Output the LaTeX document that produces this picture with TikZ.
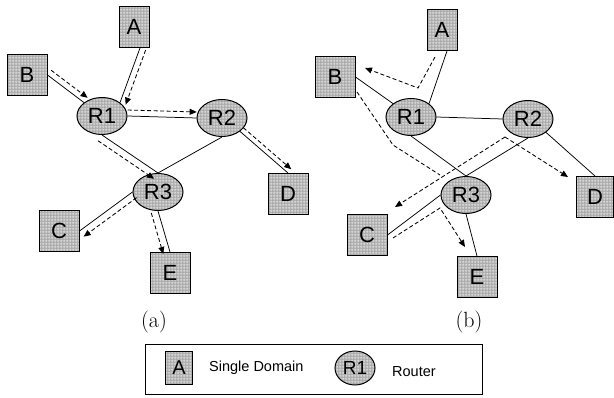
\documentclass[tikz,border=0pt]{standalone}
\usepackage{fontspec}
\setsansfont{Liberation Sans}
\usetikzlibrary{calc,patterns,arrows.meta,shapes.geometric}

% white mesh laid over a grey fill, the stippled look of the nodes
\pgfdeclarepatternformonly{mesh}{\pgfqpoint{0pt}{0pt}}{\pgfqpoint{3pt}{3pt}}{\pgfqpoint{3pt}{3pt}}{%
  \pgfsetlinewidth{0.7pt}%
  \pgfpathmoveto{\pgfqpoint{0pt}{1.5pt}}\pgfpathlineto{\pgfqpoint{3pt}{1.5pt}}%
  \pgfpathmoveto{\pgfqpoint{1.5pt}{0pt}}\pgfpathlineto{\pgfqpoint{1.5pt}{3pt}}%
  \pgfusepath{stroke}}

\tikzset{
  textured/.style={draw=black, line width=1pt, preaction={fill=gray!66},
    pattern=mesh, pattern color=white!85!gray},
  dombox/.style={textured, rectangle, minimum width=40pt, minimum height=41pt,
    inner sep=0pt, font=\sffamily\fontsize{22}{22}\selectfont},
  slimbox/.style={minimum width=30pt},
  rtrnode/.style={textured, ellipse, minimum width=50pt, minimum height=37pt,
    inner sep=0pt, font=\sffamily\fontsize{22}{22}\selectfont},
  linkline/.style={line width=0.75pt},
  flowplain/.style={line width=0.85pt, dash pattern=on 4pt off 2.5pt},
  flowline/.style={flowplain, -{Triangle[length=7pt,width=6pt]}},
  captext/.style={font=\fontsize{22}{22}\selectfont},
  keytext/.style={anchor=west, inner sep=0pt, font=\sffamily\fontsize{14.5}{14.5}\selectfont},
}

% dashed flow running beside a link, #1 = sideways offset
\newcommand\flowpar[3]{%
  \path (#2) -- (#3) coordinate[pos=0] (fs) coordinate[pos=1] (ft);
  \draw[flowline] ($(fs)!#1!90:(ft)$) -- ($(ft)!#1!-90:(fs)$);
}

\begin{document}
\begin{tikzpicture}[x=1pt, y=-1pt]
\useasboundingbox (0,0) rectangle (614,398);

% ---------- (a) ----------
\node[dombox,slimbox] (A) at (134,27) {A};
\node[dombox] (B) at (27,75) {B};
\node[rtrnode] (R1) at (102,116) {R1};
\node[rtrnode] (R2) at (222,118) {R2};
\node[rtrnode] (R3) at (158,192) {R3};
\node[dombox] (D) at (288,194) {D};
\node[dombox] (C) at (59,231) {C};
\node[dombox] (E) at (170,273) {E};
\coordinate (Aout) at ([xshift=6]A.south);

\draw[linkline] (B.east) -- (R1.north west);
\draw[linkline] (Aout) -- (R1.north east);
\draw[linkline] (R1.east) -- (R2.west);
\draw[linkline] (R1.south) -- (R3.north);
\draw[linkline] (R2.south) -- (R3.north);
\draw[linkline] (R2.south east) -- (D.north);
\draw[linkline] (R3.west) -- (C.east);
\draw[linkline] (R3.south) -- (E.north);

\flowpar{6pt}{B.east}{R1.north west}
\flowpar{6pt}{Aout}{R1.north east}
\flowpar{6pt}{R1.east}{R2.west}
\flowpar{5pt}{R2.south east}{D.north}
\flowpar{-7pt}{R1.south}{R3.north}
\flowpar{7pt}{R3.west}{C.east}
\flowpar{-7pt}{R3.south}{E.north}

\node[captext] (capA) at (154,322) {(a)};

% ---------- (b) ----------
\node[dombox,slimbox] (bA) at (442,30) {A};
\node[dombox] (bB) at (335,77) {B};
\node[rtrnode] (bR1) at (411,117) {R1};
\node[rtrnode] (bR2) at (528,119) {R2};
\node[rtrnode] (bR3) at (466,195) {R3};
\node[dombox, minimum width=37pt] (bD) at (595,197) {D};
\node[dombox] (bC) at (367,235) {C};
\node[dombox] (bE) at (477,277) {E};
\coordinate (bAout) at ([xshift=5]bA.south);

\draw[linkline] (bB.east) -- (bR1.north west);
\draw[linkline] (bAout) -- (bR1.north east);
\draw[linkline] (bR1.east) -- (bR2.west);
\draw[linkline] (bR1.south) -- (bR3.north);
\draw[linkline] (bR2.south) -- (bR3.north);
\draw[linkline] (bR2.south east) -- (bD.north);
\draw[linkline] (bR3.west) -- (bC.east);
\draw[linkline] (bR3.south) -- (bE.north);

% flows in (b)
\coordinate (fromA) at (435,57);
\coordinate (bendA) at (418,88);
\coordinate (toB) at (365,68);
\draw[flowline] (fromA) -- (bendA) -- (toB);

\coordinate (fromB) at (357,92);
\coordinate (bendB) at (393,145);
\coordinate (atR3) at (440,175);
\draw[flowplain] (fromB) -- (bendB) -- (atR3);

\coordinate (fromR2) at (505,137);
\coordinate (toC) at (395,207);
\coordinate (toD) at (568,177);
\draw[flowline] (fromR2) -- (toC);
\draw[flowline] (fromR2) -- (toD);

\coordinate (fromC) at (393,238);
\coordinate (bendC) at (440,208);
\coordinate (toE) at (465,247);
\draw[flowline] (fromC) -- (bendC) -- (toE);

\node[captext] (capB) at (469,322) {(b)};

% ---------- key ----------
\node[draw, line width=0.8pt, minimum width=337pt, minimum height=50pt, inner sep=0pt] (key) at (313.5,369) {};
\node[dombox, minimum width=27pt, minimum height=33pt, font=\sffamily\fontsize{20}{20}\selectfont] (kA) at (179,368) {A};
\node[keytext] (kAtext) at (209,368) {Single Domain};
\node[rtrnode, minimum width=40pt, minimum height=34pt, font=\sffamily\fontsize{19}{19}\selectfont] (kR) at (355,368) {R1};
\node[keytext] (kRtext) at (392,372) {Router};
\end{tikzpicture}
\end{document}
